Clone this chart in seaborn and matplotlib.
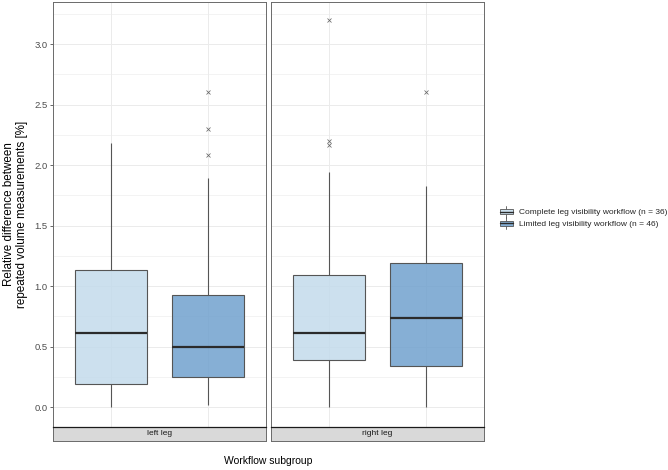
import numpy as np
import pandas as pd
import matplotlib
matplotlib.use("Agg")
import matplotlib.pyplot as plt
import seaborn as sns
from matplotlib.legend_handler import HandlerBase
from matplotlib.patches import Rectangle, Patch
from matplotlib.lines import Line2D

# ---------------- data ----------------
legs = ["left leg", "right leg"]
workflows = ["Complete leg visibility workflow (n = 36)",
             "Limited leg visibility workflow (n = 46)"]

left_complete = [0.00, 0.19, 0.61, 1.13, 2.18]
left_limited = [0.02, 0.08, 0.14, 0.20, 0.25, 0.31, 0.38, 0.44, 0.50,
                0.58, 0.69, 0.81, 0.93, 1.89, 2.08, 2.30, 2.60]
right_complete = [0.00, 0.12, 0.24, 0.33, 0.39, 0.45, 0.51, 0.56, 0.61,
                  0.72, 0.85, 0.97, 1.095, 1.94, 2.17, 2.20, 3.20]
right_limited = [0.00, 0.17, 0.34, 0.55, 0.74, 0.95, 1.19, 1.83, 2.60]

yticks = [0.0, 0.5, 1.0, 1.5, 2.0, 2.5, 3.0]
ytick_labels = ["0.0", "0.5", "1.0", "1.5", "2.0", "2.5", "3.0"]

rows = []
for leg, wf, vals in [(legs[0], workflows[0], left_complete),
                      (legs[0], workflows[1], left_limited),
                      (legs[1], workflows[0], right_complete),
                      (legs[1], workflows[1], right_limited)]:
    for v in vals:
        rows.append({"leg": leg, "workflow": wf, "value": v})
df = pd.DataFrame(rows)

# ---------------- style ----------------
sns.set_theme(style="white")
plt.rcParams["font.family"] = ["Liberation Sans", "DejaVu Sans"]

fill_colors = {workflows[0]: (0.765, 0.859, 0.922, 0.85),
               workflows[1]: (0.443, 0.631, 0.808, 0.85)}

W, H = 668, 470
fig = plt.figure(figsize=(W / 100, H / 100), dpi=100)

panel_top, panel_bot, strip_bot = 2.0, 426.7, 441.0
panel_x = [(53.3, 265.7), (271.3, 483.7)]

grid_c = "#ebebeb"
border_c = "#6a6a6a"

axes = []
for i, leg in enumerate(legs):
    x0, x1 = panel_x[i]
    ax = fig.add_axes([x0 / W, (H - panel_bot) / H, (x1 - x0) / W,
                       (panel_bot - panel_top) / H])
    sub = df[df["leg"] == leg]
    sns.boxplot(data=sub, x="workflow", y="value", hue="workflow",
                order=workflows, hue_order=workflows,
                palette=[fill_colors[w][:3] for w in workflows],
                width=0.75, whis=1.5, linecolor="#555555", linewidth=0.8,
                saturation=1, legend=False, showcaps=False,
                medianprops=dict(color="#2b2b2b", linewidth=1.6),
                whiskerprops=dict(color="#555555", linewidth=0.8),
                flierprops=dict(marker="x", markersize=3.0,
                                markeredgecolor="#666666",
                                markeredgewidth=0.55),
                ax=ax)
    for p, w in zip(ax.patches, workflows):
        p.set_facecolor(fill_colors[w])
        p.set_edgecolor("#555555")
    ax.set_xlim(-0.6, 1.6)
    ax.set_ylim(-0.16, 3.347)
    ax.set_axisbelow(True)
    ax.set_yticks(yticks)
    ax.set_yticks(np.arange(0.25, 3.3, 0.5), minor=True)
    ax.set_xticks([0, 1])
    ax.grid(True, which="major", axis="both", color=grid_c, linewidth=0.7)
    ax.grid(True, which="minor", axis="y", color=grid_c, linewidth=0.4)
    ax.set_xlabel("")
    ax.set_ylabel("")
    ax.tick_params(axis="x", length=0, labelbottom=False)
    if i == 0:
        ax.set_yticklabels(ytick_labels)
        ax.tick_params(axis="y", which="major", length=2.5, width=0.6,
                       color="#4d4d4d", labelsize=6.8, labelcolor="#4d4d4d",
                       pad=1.5, left=True)
        ax.tick_params(axis="y", which="minor", length=0)
    else:
        ax.tick_params(axis="y", which="both", length=0, labelleft=False)
    for s in ax.spines.values():
        s.set_visible(True)
        s.set_color(border_c)
        s.set_linewidth(0.7)
    ax.set_facecolor("white")
    axes.append(ax)

    # strip at bottom
    sax = fig.add_axes([x0 / W, (H - strip_bot) / H, (x1 - x0) / W,
                        (strip_bot - panel_bot) / H])
    sax.set_facecolor("#d9d9d9")
    sax.set_xticks([])
    sax.set_yticks([])
    for s in sax.spines.values():
        s.set_color(border_c)
        s.set_linewidth(0.7)
    sax.spines["top"].set_color("#1a1a1a")
    sax.spines["top"].set_linewidth(0.9)
    sax.text(0.5, 0.5, leg, ha="center", va="center", fontsize=6,
             color="#1a1a1a", transform=sax.transAxes)

# axis titles
fig.text(268.5 / W, 1 - 461.5 / H, "Workflow subgroup", ha="center",
         va="center", fontsize=7.5, color="#000000")
fig.text(15.5 / W, 1 - 214 / H,
         "Relative difference between\nrepeated volume measurements [%]",
         ha="center", va="center", rotation=90, fontsize=8.4,
         multialignment="center", linespacing=1.05, color="#000000")


# legend with boxplot-like keys
class BoxKeyHandler(HandlerBase):
    def create_artists(self, legend, orig_handle, xdescent, ydescent,
                       width, height, fontsize, trans):
        x0, y0 = -xdescent, -ydescent
        fc = orig_handle.get_facecolor()
        cx = x0 + width / 2
        bl, bh = y0 + height * 0.27, y0 + height * 0.73
        whisk1 = Line2D([cx, cx], [y0, bl], color="#555555",
                        lw=0.6, transform=trans)
        whisk2 = Line2D([cx, cx], [bh, y0 + height], color="#555555",
                        lw=0.6, transform=trans)
        rect = Rectangle((x0, bl), width, bh - bl,
                         facecolor=fc, edgecolor="#555555", lw=0.6,
                         transform=trans)
        med = Line2D([x0, x0 + width],
                     [(bl + bh) / 2, (bl + bh) / 2], color="#2b2b2b",
                     lw=1.0, transform=trans)
        return [whisk1, whisk2, rect, med]


handles = [Patch(facecolor=fill_colors[w]) for w in workflows]
fig.legend(handles, workflows, loc="center left",
           bbox_to_anchor=(500 / W, 1 - 217.5 / H), frameon=False,
           fontsize=6, handlelength=1.55, handleheight=1.8,
           handletextpad=0.75, labelspacing=0.0, borderpad=0,
           borderaxespad=0,
           handler_map={Patch: BoxKeyHandler()})

fig.savefig("out.png", dpi=100)
